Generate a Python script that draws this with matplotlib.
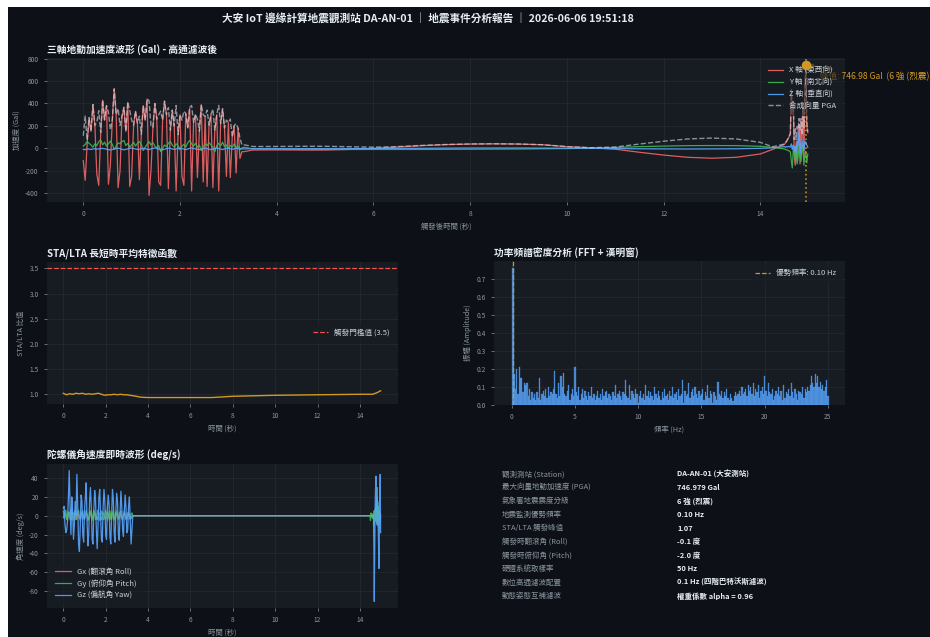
import numpy as np
import matplotlib
matplotlib.use("Agg")
import matplotlib.pyplot as plt
from matplotlib.patches import Rectangle

plt.rcParams["font.family"] = ["Noto Sans CJK TC", "DejaVu Sans"]
plt.rcParams["axes.unicode_minus"] = False

BG = "#0d1117"
PANEL = "#171b22"
GRID = "#30363d"
MUTED = "#8b949e"
TEXT = "#e6edf3"
RED = "#ff6b6b"
GREEN = "#3fb950"
BLUE = "#58a6ff"
GOLD = "#d29922"

# --- accelerometer (Gal), 50 Hz record split in three stretches ---
t_active = np.round(np.arange(83) * 0.04, 2)          # 0.00 - 3.28 s
t_quiet = [3.32, 3.5, 4.0, 4.5, 5.0, 5.5, 6.0, 6.5, 7.0, 7.5, 8.0, 8.5,
           9.0, 9.5, 10.0, 10.5, 11.0, 11.5, 12.0, 12.5, 13.0, 13.5, 14.0, 14.25]
t_end = np.round(14.5 + np.arange(25) * 0.02, 2)      # 14.50 - 14.98 s

acc_x_active = [-110, -285, 40, 270, 150,
                390, 200, -230, -330, 120,
                430, 250, 380, -320, -150,
                250, 530, 300, -350, -200,
                280, 360, 150, 410, -340,
                -250, 200, 330, 220, -280,
                120, 380, 250, 440, -420,
                -200, 180, 400, 260, -300,
                -330, 250, 420, 300, -360,
                150, 340, 200, -380, 120,
                300, -250, -330, 310, 180,
                360, -380, 230, 300, -260,
                150, 390, -300, 280, -340,
                200, 300, -350, 160, 300,
                -380, 220, 350, 180, -250,
                230, -260, 100, 200, -220,
                180, -90, -30]
acc_y_active = [20, 35, 60, 45, 30, 10, 40, 25, 60, 75,
                30, 55, 20, 40, 65, 35, -10, 20, 50, 40,
                60, 70, 25, 45, 10, 30, 55, 20, 45, 60,
                35, -20, 10, 35, 60, 30, 50, 20, 5, 25,
                -30, 0, 30, 15, 45, 60, 30, 10, 40, 25,
                -15, 20, 35, 10, 50, 70, 40, 20, 45, 10,
                30, -20, 15, 40, 25, 50, 30, 10, -30, 25,
                45, 20, 55, 15, 30, 0, 25, 10, 40, 5,
                20, -10, 5]
acc_z_active = [-10, -12, -5, -8, -10, -6, -3, -8, -5, -2,
                0, -4, -8, -12, -15, -10, -6, -2, 2, -3,
                -8, -14, -10, -5, 0, 3, -2, -6, -10, -8,
                -4, 0, -3, -8, -12, -5, 0, 4, -2, -6,
                -10, -14, -8, -3, 2, 0, -5, -10, -6, -2,
                3, -2, -8, -12, -6, 0, 4, -1, -5, -9,
                -12, -7, -2, 2, -3, -8, -12, -6, -1, 3,
                -2, -7, -11, -5, 0, 2, -4, -9, -5, 0,
                -3, -8, -5]

acc_x_quiet = [-30, -15, -14, -15, -15, -10, 0, 12, 24, 33, 38, 40,
               38, 32, 15, 5, -8, -35, -60, -80, -88, -80, -50, -10]
acc_y_quiet = [10, -5, -8, -10, -10, -10, -10, -10, -10, -9, -8, -7,
               -6, -4, -2, 2, 8, 15, 20, 24, 25, 24, 18, 8]
acc_z_quiet = [-5, -3, -3, -3, -3, -2, -2, 0, 0, 2, 3, 3,
               3, 2, 1, 0, -2, -4, -5, -6, -5, -4, 0, 5]

acc_x_end = [35, 50, 60, 75, 90, 110, 125, 510, 300, 420, -60, -150, 60,
             -120, 150, 210, -140, 230, 80, 400, -100, 520, 744.532, 200, 140]
acc_y_end = [-5, -10, -15, -15, -20, -25, -30, -110, -175, -20, -40, -100, 20,
             -140, -80, 30, -60, -120, -30, 40, -150, -60, -25, -130, -50]
acc_z_end = [15, 10, 15, 12, 18, 15, 10, 40, -10, 30, -30, 20, -40,
             60, 20, 160, 30, -50, 80, 20, -20, 60, 55, 30, 10]

# --- STA/LTA characteristic function ---
sta_t = [0, 0.15, 0.3, 0.45, 0.6, 0.75, 0.9, 1.05, 1.2, 1.35,
         1.5, 1.65, 1.8, 1.95, 2.1, 2.25, 2.4, 2.55, 2.7, 2.85,
         3.0, 3.15, 3.3, 3.45, 3.6, 3.75, 4.0, 5.0, 6.0, 7.0,
         7.2, 8.0, 9.0, 10.0, 11.0, 12.0, 13.0, 14.0, 14.6, 14.8, 14.98]
sta_v = [1.02, 0.99, 1.01, 1.00, 1.02, 1.01, 1.02, 1.00, 1.01, 1.00,
         1.01, 1.02, 1.00, 0.98, 0.99, 0.99, 1.00, 0.99, 1.00, 0.99,
         0.99, 0.98, 0.97, 0.96, 0.945, 0.94, 0.935, 0.935, 0.935, 0.935,
         0.94, 0.96, 0.97, 0.98, 0.985, 0.99, 0.995, 1.0, 1.0, 1.03, 1.07]
sta_threshold = 3.5

# --- amplitude spectrum, 0.1 Hz bins from 0 to 25 Hz ---
psd_step = 0.1
psd_amp = [
    0.00, 0.76, 0.17, 0.09, 0.20, 0.06, 0.21, 0.15, 0.15, 0.07,
    0.12, 0.11, 0.12, 0.05, 0.09, 0.03, 0.07, 0.04, 0.06, 0.03,
    0.07, 0.04, 0.15, 0.03, 0.06, 0.08, 0.05, 0.09, 0.04, 0.10,
    0.05, 0.07, 0.06, 0.09, 0.19, 0.06, 0.04, 0.12, 0.05, 0.16,
    0.10, 0.18, 0.06, 0.05, 0.08, 0.11, 0.03, 0.06, 0.09, 0.05,
    0.21, 0.07, 0.05, 0.10, 0.03, 0.06, 0.09, 0.04, 0.08, 0.05,
    0.03, 0.07, 0.05, 0.10, 0.04, 0.06, 0.03, 0.05, 0.08, 0.04,
    0.06, 0.03, 0.09, 0.05, 0.07, 0.08, 0.04, 0.06, 0.05, 0.03,
    0.07, 0.05, 0.11, 0.04, 0.06, 0.08, 0.05, 0.03, 0.07, 0.06,
    0.14, 0.05, 0.04, 0.11, 0.03, 0.08, 0.06, 0.04, 0.09, 0.06,
    0.01, 0.05, 0.08, 0.04, 0.06, 0.03, 0.11, 0.05, 0.08, 0.04,
    0.07, 0.05, 0.03, 0.10, 0.06, 0.04, 0.08, 0.05, 0.03, 0.07,
    0.04, 0.09, 0.05, 0.06, 0.03, 0.08, 0.05, 0.10, 0.04, 0.06,
    0.07, 0.03, 0.09, 0.05, 0.06, 0.14, 0.01, 0.08, 0.05, 0.06,
    0.12, 0.04, 0.07, 0.09, 0.05, 0.10, 0.06, 0.04, 0.08, 0.05,
    0.06, 0.09, 0.03, 0.07, 0.05, 0.11, 0.04, 0.08, 0.06, 0.01,
    0.07, 0.05, 0.03, 0.13, 0.06, 0.05, 0.08, 0.04, 0.07, 0.05,
    0.09, 0.04, 0.03, 0.06, 0.04, 0.02, 0.05, 0.07, 0.05, 0.06,
    0.08, 0.05, 0.10, 0.06, 0.07, 0.09, 0.05, 0.11, 0.08, 0.10,
    0.06, 0.12, 0.05, 0.09, 0.07, 0.11, 0.04, 0.08, 0.10, 0.06,
    0.16, 0.08, 0.05, 0.12, 0.07, 0.06, 0.09, 0.03, 0.05, 0.08,
    0.06, 0.10, 0.05, 0.08, 0.03, 0.11, 0.04, 0.07, 0.06, 0.09,
    0.05, 0.12, 0.07, 0.04, 0.09, 0.06, 0.03, 0.08, 0.07, 0.06,
    0.10, 0.04, 0.09, 0.07, 0.10, 0.08, 0.11, 0.16, 0.12, 0.10,
    0.17, 0.12, 0.16, 0.10, 0.13, 0.09, 0.11, 0.08, 0.10, 0.14,
    0.05]
dominant_freq = 0.10

# --- gyroscope (deg/s) ---
gx_active = [-2, 1, 3, -1, -4, -2, 2, 4, 1, -3,
             -4, 0, 3, 2, -2, -4, 1, 4, 0, -3,
             -3, 1, 4, 1, -2, -4, 0, 3, 2, -2,
             -4, -1, 3, 2, -1, -3, 1, 4, 0, -3,
             -4, 0, 3, 2, -2, -4, 1, 3, 1, -2,
             -3, 0, 4, 1, -2, -4, 0, 3, 2, -2,
             -4, -1, 3, 2, -1, -3, 1, 4, 0, -3,
             -3, 1, 3, 1, -2, -4, 0, 3, 1, -2,
             -3, 0, 0]
gy_active = [5, -3, 2, 6, -2, -5, 4, 1, -4, 3,
             6, -1, -5, 2, 5, -3, -4, 3, 6, 0,
             -5, -2, 4, 5, -3, -4, 2, 6, 0, -5,
             -3, 4, 5, -1, -5, 1, 6, 2, -4, -3,
             3, 6, -2, -5, 0, 5, 3, -4, -4, 2,
             6, 1, -5, -2, 4, 5, -3, -4, 2, 6,
             0, -5, -1, 5, 3, -4, -3, 3, 5, -2,
             -5, 1, 5, 2, -4, -3, 3, 4, -2, -4,
             2, 3, 0]
gz_active = [8, 10, -10, -18, -15, -5, 20, 48, 10, -20,
             20, 5, -25, -10, 15, 0, 44, 10, -30, -38,
             -10, 22, 15, -20, -28, 5, 20, 35, -5, -32,
             -20, 15, 30, 10, -25, -30, 5, 27, 18, -15,
             -35, -10, 20, 28, 0, -25, -28, 10, 28, 15,
             -20, -25, 8, 22, 12, -22, -30, 0, 28, 18,
             -18, -28, 5, 24, 15, -20, -26, 2, 26, 10,
             -15, -22, 5, 22, 8, -18, -15, 10, 20, -5,
             -30, -15, 0]
gyro_t_quiet = [3.32, 14.48]
gyro_quiet = [0, 0]
gx_end = [0, 0, 0, 1, -1, 0, 1, -2, 2, -4, 3, -5, 4,
          -3, 6, -4, 2, -6, 5, -3, 2, -1, 3, -2, 1]
gy_end = [-5, 3, -2, 2, 0, -3, 2, -1, 5, -10, 6, -4, 8,
          -6, 12, -8, 30, -5, 10, -4, 6, -8, 3, -6, -2]
gz_end = [0, 0, 0, 0, 0, 0, 0, 0, -30, -91, -40, 10, 30,
          42, 5, 20, -10, 15, -5, -30, -56, -10, 20, 44, -18]

# --- summary table ---
info_labels = ["觀測測站 (Station)", "最大向量地動加速度 (PGA)", "氣象署地震震度分級",
               "地震監測優勢頻率", "STA/LTA 觸發峰值", "觸發時翻滾角 (Roll)",
               "觸發時俯仰角 (Pitch)", "硬體系統取樣率", "數位高通濾波配置", "動態姿態互補濾波"]
info_values = ["DA-AN-01 (大安測站)", "746.979 Gal", "6 強 (烈震)", "0.10 Hz", "1.07",
               "-0.1 度", "-2.0 度", "50 Hz", "0.1 Hz (四階巴特沃斯濾波)", "權重係數 alpha = 0.96"]
intensity = "6 強 (烈震)"

# assemble the records
t_acc = np.concatenate([t_active, t_quiet, t_end])
ax_ = np.concatenate([acc_x_active, acc_x_quiet, acc_x_end]).astype(float)
ay_ = np.concatenate([acc_y_active, acc_y_quiet, acc_y_end]).astype(float)
az_ = np.concatenate([acc_z_active, acc_z_quiet, acc_z_end]).astype(float)
pga_vec = np.sqrt(ax_ ** 2 + ay_ ** 2 + az_ ** 2)
i_pk = int(np.argmax(pga_vec))
t_pk, pga = t_acc[i_pk], pga_vec[i_pk]

t_gyro = np.concatenate([t_active, gyro_t_quiet, t_end])
gx = np.concatenate([gx_active, gyro_quiet, gx_end])
gy = np.concatenate([gy_active, gyro_quiet, gy_end])
gz = np.concatenate([gz_active, gyro_quiet, gz_end])

freqs = np.arange(len(psd_amp)) * psd_step


def style(ax, title, xlabel, ylabel):
    ax.set_facecolor(PANEL)
    for s in ax.spines.values():
        s.set_visible(False)
    ax.tick_params(colors=MUTED, labelsize=4.8, length=2.5, width=0.5)
    ax.grid(color=GRID, lw=0.5, alpha=0.6)
    ax.set_axisbelow(True)
    ax.set_title(title, loc="left", color=TEXT, fontsize=7.0, fontweight="bold", pad=4)
    ax.set_xlabel(xlabel, color=MUTED, fontsize=5.3, labelpad=3)
    ax.set_ylabel(ylabel, color=MUTED, fontsize=5.3, labelpad=3)


def legend(ax, **kw):
    leg = ax.legend(fontsize=5.5, facecolor=PANEL, edgecolor=PANEL, framealpha=0.6,
                    labelcolor="#c9d1d9", handlelength=2.0, borderpad=0.6, **kw)
    return leg


W, H = 930, 637
fig = plt.figure(figsize=(W / 100, H / 100), dpi=100, facecolor="white")
fig.add_artist(Rectangle((8 / W, 0), 1, 1 - 7 / H, transform=fig.transFigure,
                         facecolor=BG, edgecolor="none", zorder=-10))


def box(l, t, r, b):
    return [l / W, 1 - b / H, (r - l) / W, (b - t) / H]


fig.text(428 / W, 1 - 18 / H,
         "大安 IoT 邊緣計算地震觀測站 DA-AN-01 ｜ 地震事件分析報告 ｜ 2026-06-06 19:51:18",
         ha="center", va="center", color=TEXT, fontsize=7.7, fontweight="bold")

# three-axis acceleration
ax1 = fig.add_axes(box(47, 58, 845, 202))
style(ax1, "三軸地動加速度波形 (Gal) - 高通濾波後", "觸發後時間 (秒)", "加速度 (Gal)")
ax1.plot(t_acc, ax_, color=RED, lw=0.9, alpha=0.85, label="X 軸 (東西向)")
ax1.plot(t_acc, ay_, color=GREEN, lw=0.9, alpha=0.9, label="Y 軸 (南北向)")
ax1.plot(t_acc, az_, color=BLUE, lw=0.9, alpha=0.9, label="Z 軸 (垂直向)")
ax1.plot(t_acc, pga_vec, color="#c9d1d9", lw=1.0, ls="--", alpha=0.65, label="合成向量 PGA")
ax1.axvline(t_pk, color=GOLD, ls=":", lw=1.2, alpha=0.9)
legend(ax1, loc="upper right")
ax1.scatter([t_pk], [pga], s=35, color=GOLD, zorder=6)
ax1.annotate(f"峰值: {pga:.2f} Gal  ({intensity})", xy=(t_pk, pga),
             xytext=(t_pk + 0.3, pga * 0.85), va="center", color=GOLD, fontsize=6.2,
             arrowprops=dict(arrowstyle="->", color=GOLD, lw=0.8))
ax1.set_xlim(-0.75, 15.75)

# STA/LTA
ax2 = fig.add_axes(box(47, 262, 398, 404))
style(ax2, "STA/LTA 長短時平均特徵函數", "時間 (秒)", "STA/LTA 比值")
ax2.plot(sta_t, sta_v, color=GOLD, lw=1.0)
ax2.axhline(sta_threshold, color="#f85149", ls="--", lw=0.9,
            label=f"觸發門檻值 ({sta_threshold})")
legend(ax2, loc="center right")
ax2.set_xlim(-0.77, 15.8)

# spectrum
ax3 = fig.add_axes(box(494, 261, 845, 405))
style(ax3, "功率頻譜密度分析 (FFT + 漢明窗)", "頻率 (Hz)", "振幅 (Amplitude)")
ax3.bar(freqs, psd_amp, width=psd_step, color=BLUE, alpha=0.75,
        edgecolor=BLUE, linewidth=0.25)
ax3.axvline(dominant_freq, color=GOLD, ls="--", lw=0.9,
            label=f"優勢頻率: {dominant_freq:.2f} Hz")
legend(ax3, loc="upper right")
ax3.set_xlim(-1.4, 26.35)

# gyroscope
ax4 = fig.add_axes(box(47, 464, 398, 608))
style(ax4, "陀螺儀角速度即時波形 (deg/s)", "時間 (秒)", "角速度 (deg/s)")
ax4.plot(t_gyro, gx, color=RED, lw=0.9, alpha=0.85, label="Gx (翻滾角 Roll)")
ax4.plot(t_gyro, gy, color=GREEN, lw=0.9, alpha=0.9, label="Gy (俯仰角 Pitch)")
ax4.plot(t_gyro, gz, color=BLUE, lw=0.9, alpha=0.9, label="Gz (偏航角 Yaw)")
legend(ax4, loc="lower left")
ax4.set_xlim(-0.77, 15.8)

# summary table
row_y = 474.3
for lab, val in zip(info_labels, info_values):
    fig.text(502 / W, 1 - row_y / H, lab, ha="left", va="center", color=MUTED, fontsize=5.4)
    fig.text(677 / W, 1 - row_y / H, val, ha="left", va="center", color=TEXT,
             fontsize=5.4, fontweight="bold")
    row_y += 13.52

fig.savefig("out.png", dpi=100, facecolor=fig.get_facecolor())
